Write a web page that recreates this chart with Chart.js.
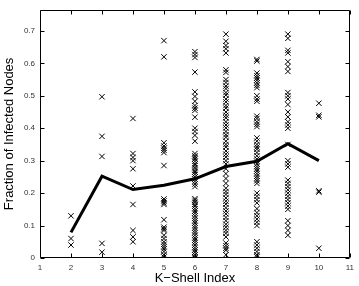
<!DOCTYPE html>
<html>
<head>
<meta charset="utf-8">
<script src="https://cdn.jsdelivr.net/npm/chart.js@4/dist/chart.umd.min.js"></script>
<style>
  html, body { margin: 0; padding: 0; background: #fff; }
  #chart { display: block; }
</style>
</head>
<body>
<canvas id="chart" width="359" height="286"></canvas>
<script>
// K-shell indices (x) and mean fraction per shell (thick line)
const kShells = [2, 3, 4, 5, 6, 7, 8, 9, 10];
const meanFraction = [0.079, 0.252, 0.211, 0.224, 0.244, 0.282, 0.298, 0.352, 0.3];

// individual runs per shell (x markers)
const shell2 = [0.13, 0.06, 0.04];
const shell3 = [0.497, 0.375, 0.313, 0.045, 0.018];
const shell4 = [0.43, 0.322, 0.31, 0.3, 0.275, 0.222, 0.165, 0.085, 0.065, 0.05];
const shell5 = [0.67, 0.62, 0.355, 0.345, 0.338, 0.332, 0.325, 0.285, 0.182, 0.176,
  0.17, 0.165, 0.118, 0.095, 0.09, 0.085, 0.07, 0.06, 0.05, 0.042, 0.035, 0.028,
  0.02, 0.01, 0.003];
const shell6 = [0.636, 0.627, 0.618, 0.573, 0.512, 0.498, 0.483, 0.47, 0.462, 0.455,
  0.434, 0.4, 0.39, 0.378, 0.36, 0.322, 0.315, 0.31, 0.305, 0.298, 0.29, 0.285,
  0.278, 0.27, 0.265, 0.258, 0.25, 0.243, 0.236, 0.228, 0.22, 0.183, 0.178, 0.172,
  0.165, 0.16, 0.152, 0.145, 0.138, 0.13, 0.122, 0.115, 0.108, 0.1, 0.093, 0.085,
  0.078, 0.07, 0.062, 0.055, 0.048, 0.04, 0.032, 0.025, 0.018, 0.01, 0.004, 0.0];
const shell7 = [0.69, 0.668, 0.655, 0.645, 0.632, 0.58, 0.572, 0.55, 0.541, 0.53,
  0.522, 0.51, 0.502, 0.49, 0.481, 0.47, 0.462, 0.45, 0.44, 0.432, 0.42, 0.41,
  0.401, 0.39, 0.38, 0.372, 0.36, 0.35, 0.342, 0.33, 0.32, 0.311, 0.3, 0.29,
  0.275, 0.26, 0.245, 0.23, 0.215, 0.205, 0.196, 0.185, 0.175, 0.166, 0.155,
  0.145, 0.136, 0.125, 0.115, 0.104, 0.095, 0.085, 0.076, 0.065, 0.046, 0.038,
  0.03, 0.024, 0.01];
const shell8 = [0.612, 0.607, 0.57, 0.562, 0.555, 0.548, 0.54, 0.532, 0.525, 0.5,
  0.49, 0.483, 0.437, 0.43, 0.42, 0.412, 0.405, 0.37, 0.36, 0.35, 0.342, 0.335,
  0.325, 0.315, 0.305, 0.298, 0.29, 0.282, 0.275, 0.268, 0.26, 0.252, 0.245,
  0.238, 0.23, 0.2, 0.19, 0.18, 0.17, 0.152, 0.14, 0.13, 0.12, 0.11, 0.1, 0.05,
  0.04, 0.03, 0.02, 0.01, 0.004];
const shell9 = [0.69, 0.677, 0.64, 0.632, 0.605, 0.59, 0.575, 0.51, 0.5, 0.49,
  0.473, 0.45, 0.435, 0.42, 0.41, 0.4, 0.35, 0.3, 0.29, 0.28, 0.24, 0.23, 0.22,
  0.21, 0.2, 0.19, 0.18, 0.17, 0.16, 0.15, 0.115, 0.1, 0.085, 0.07];
const shell10 = [0.477, 0.44, 0.435, 0.207, 0.203, 0.03];

const runsByShell = [shell2, shell3, shell4, shell5, shell6, shell7, shell8, shell9, shell10];

// axes
const xTicks = [1, 2, 3, 4, 5, 6, 7, 8, 9, 10, 11];
const yTicks = [0, 0.1, 0.2, 0.3, 0.4, 0.5, 0.6, 0.7];
const yTickLabels = ["0", "0.1", "0.2", "0.3", "0.4", "0.5", "0.6", "0.7"];

const FONT = "'Liberation Sans', Arial, Helvetica, sans-serif";

// scatter points built from the per-shell arrays
const runPoints = [];
runsByShell.forEach((runs, i) => {
  runs.forEach((v) => runPoints.push({ x: kShells[i], y: v }));
});

// boite + graduations vers l'interieur (style matlab)
const boxTicks = {
  id: "boxTicks",
  afterDraw(chart) {
    const { ctx, chartArea: a, scales } = chart;
    const len = 4;
    const L = Math.round(a.left) + 0.5;
    const R = Math.round(a.right) - 0.5;
    const T = Math.round(a.top) + 0.5;
    const B = Math.round(a.bottom) - 0.5;
    ctx.save();
    ctx.strokeStyle = "#000";
    ctx.lineWidth = 1;
    ctx.beginPath();
    ctx.rect(L, T, R - L, B - T);
    scales.x.ticks.forEach((t) => {
      const px = Math.round(scales.x.getPixelForValue(t.value)) + 0.5;
      ctx.moveTo(px, B); ctx.lineTo(px, B - len);
      ctx.moveTo(px, T); ctx.lineTo(px, T + len);
    });
    scales.y.ticks.forEach((t) => {
      const py = Math.round(scales.y.getPixelForValue(t.value)) + 0.5;
      ctx.moveTo(L, py); ctx.lineTo(L + len, py);
      ctx.moveTo(R, py); ctx.lineTo(R - len, py);
    });
    ctx.stroke();
    ctx.restore();
  },
};

new Chart(document.getElementById("chart"), {
  type: "scatter",
  data: {
    datasets: [
      {
        type: "line",
        label: "mean",
        data: kShells.map((k, i) => ({ x: k, y: meanFraction[i] })),
        borderColor: "#000",
        borderWidth: 3,
        pointRadius: 0,
        tension: 0,
        fill: false,
      },
      {
        label: "runs",
        data: runPoints,
        pointStyle: "crossRot",
        pointRadius: 3.8,
        borderColor: "#000",
        borderWidth: 1,
        backgroundColor: "#000",
      },
    ],
  },
  options: {
    responsive: false,
    animation: false,
    layout: { padding: { top: 7, right: 3, left: 0, bottom: 0 } },
    plugins: {
      legend: { display: false },
      tooltip: { enabled: false },
    },
    scales: {
      x: {
        type: "linear",
        min: 1,
        max: 11,
        afterBuildTicks: (scale) => {
          scale.ticks = xTicks.map((v) => ({ value: v }));
        },
        afterFit: (scale) => { scale.height = 28; },
        grid: { display: false, drawTicks: false },
        border: { display: false },
        ticks: {
          padding: 5,
          color: "#333",
          font: { family: FONT, size: 8 },
          callback: (v) => String(v),
        },
        title: {
          display: true,
          text: "K\u2212Shell Index",
          color: "#000",
          font: { family: FONT, size: 13 },
          padding: { top: 0, bottom: 0 },
        },
      },
      y: {
        type: "linear",
        min: 0,
        max: 0.765,
        afterBuildTicks: (scale) => {
          scale.ticks = yTicks.map((v) => ({ value: v }));
        },
        afterFit: (scale) => { scale.width = 40; },
        grid: { display: false, drawTicks: false },
        border: { display: false },
        ticks: {
          padding: 5,
          color: "#333",
          font: { family: FONT, size: 8 },
          callback: (v) => yTickLabels[yTicks.indexOf(v)] ?? "",
        },
        title: {
          display: true,
          text: "Fraction of Infected Nodes",
          color: "#000",
          font: { family: FONT, size: 13 },
          padding: { top: 2, bottom: 0 },
        },
      },
    },
  },
  plugins: [boxTicks],
});
</script>
</body>
</html>
